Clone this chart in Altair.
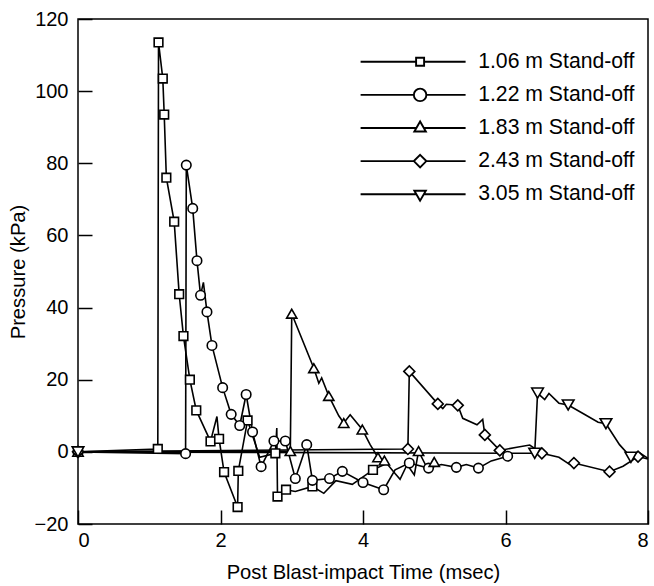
import altair as alt
import pandas as pd

# ---- data ----
series_names = ["1.06 m Stand-off", "1.22 m Stand-off", "1.83 m Stand-off",
                "2.43 m Stand-off", "3.05 m Stand-off"]
shapes = ["square", "circle", "triangle-up", "diamond", "triangle-down"]

t_106 = [0, 1.12, 1.13, 1.19, 1.21, 1.24, 1.35, 1.42, 1.48, 1.57, 1.66, 1.86, 1.95, 1.98,
         2.05, 2.24, 2.25, 2.38, 2.55, 2.77, 2.79, 2.80, 2.92, 3.05, 3.29, 3.45, 3.62, 3.85, 4.14, 4.30]
p_106 = [0, 0.8, 113.5, 103.5, 93.5, 76.0, 63.8, 43.7, 32.1, 20.0, 11.5, 2.9, 9.8, 3.6,
         -5.6, -15.3, -5.3, 8.7, -1.5, -0.4, 6.6, -12.4, -10.5, -11.0, -9.6, -11.5, -8.0, -9.0, -5.0, -3.5]
m_106 = [1, 1, 1, 1, 1, 1, 1, 1, 1, 1, 1, 1, 0, 1,
         1, 1, 1, 1, 0, 1, 0, 1, 1, 0, 1, 0, 0, 0, 1, 0]

t_122 = [0, 1.51, 1.52, 1.61, 1.67, 1.72, 1.76, 1.81, 1.88, 2.03, 2.15, 2.27, 2.36, 2.45,
         2.57, 2.75, 2.91, 3.05, 3.21, 3.29, 3.53, 3.71, 4.00, 4.29, 4.45, 4.65, 4.92, 5.10,
         5.31, 5.45, 5.62, 5.80, 6.03]
p_122 = [0, -0.5, 79.5, 67.5, 53.0, 43.4, 47.0, 38.8, 29.5, 17.8, 10.4, 7.3, 15.9, 5.5,
         -4.1, 3.0, 3.0, -7.4, 2.0, -7.9, -7.4, -5.4, -8.5, -10.5, -5.0, -3.1, -4.5, -3.5,
         -4.3, -3.5, -4.5, -2.5, -1.2]
m_122 = [1, 1, 1, 1, 1, 1, 0, 1, 1, 1, 1, 1, 1, 1,
         1, 1, 1, 1, 1, 1, 1, 1, 1, 1, 0, 1, 1, 0,
         1, 0, 1, 0, 1]

t_183 = [0, 2.98, 3.00, 3.31, 3.38, 3.42, 3.52, 3.66, 3.73, 3.82, 3.99, 4.10, 4.21, 4.30,
         4.45, 4.52, 4.62, 4.72, 4.78, 4.90, 5.00]
p_183 = [0, 0.2, 38.3, 23.2, 19.0, 20.5, 15.5, 10.0, 8.0, 10.3, 6.2, 2.0, -1.5, -2.4,
         -6.0, -7.6, -3.5, -6.4, 0.2, -4.5, -2.8]
m_183 = [1, 1, 1, 1, 0, 0, 1, 0, 1, 0, 1, 0, 1, 1,
         0, 0, 0, 0, 1, 0, 1]

t_243 = [0, 4.63, 4.65, 5.05, 5.12, 5.17, 5.33, 5.40, 5.60, 5.68, 5.71, 5.92, 6.16, 6.34,
         6.51, 6.75, 6.90, 6.96, 7.46, 7.65, 7.86, 8.00]
p_243 = [0, 0.8, 22.3, 13.3, 12.0, 13.2, 12.9, 9.3, 7.5, 9.0, 4.7, 0.4, 1.3, 1.9,
         -0.4, -1.5, -3.5, -3.1, -5.5, -4.0, -1.3, -2.0]
m_243 = [1, 1, 1, 1, 0, 0, 1, 0, 0, 0, 1, 1, 0, 0,
         1, 0, 0, 1, 1, 0, 1, 0]

t_305 = [0, 6.41, 6.45, 6.55, 6.61, 6.75, 6.88, 7.10, 7.30, 7.41, 7.60, 7.76, 7.88, 8.00]
p_305 = [0, -0.4, 16.3, 14.5, 16.2, 13.5, 13.0, 10.5, 8.2, 7.8, 2.0, -1.5, -0.2, -1.8]
m_305 = [1, 1, 1, 0, 0, 0, 1, 0, 0, 1, 0, 1, 0, 0]

x_ticks = [0, 2, 4, 6, 8]
y_ticks = [-20, 0, 20, 40, 60, 80, 100, 120]

# ---- build table ----
rows = []
for name, ts, ps, ms in zip(series_names,
                            [t_106, t_122, t_183, t_243, t_305],
                            [p_106, p_122, p_183, p_243, p_305],
                            [m_106, m_122, m_183, m_243, m_305]):
    for i, (t, p, m) in enumerate(zip(ts, ps, ms)):
        rows.append({"series": name, "t": t, "p": p, "marker": m, "i": i})
df = pd.DataFrame(rows)

FONT = "Liberation Sans"

# legend symbol paths: line + marker (unit = 5 px)
L, R = -11.9, 9.1
legend_paths = [
    f"M{L},0L-0.8,0M0.8,0L{R},0M-0.8,-0.8L0.8,-0.8L0.8,0.8L-0.8,0.8Z",
    f"M{L},0L-1.25,0M1.25,0L{R},0M-1.25,0A1.25,1.25,0,1,0,1.25,0A1.25,1.25,0,1,0,-1.25,0Z",
    f"M{L},0L-0.75,0M0.75,0L{R},0M0,-1.3L-1.15,0.7L1.15,0.7Z",
    f"M{L},0L-1.25,0M1.25,0L{R},0M0,-1.25L1.25,0L0,1.25L-1.25,0Z",
    f"M{L},0L-0.75,0M0.75,0L{R},0M0,1.3L-1.15,-0.7L1.15,-0.7Z",
]

x_enc = alt.X("t:Q", scale=alt.Scale(domain=[0, 8], nice=False),
              axis=alt.Axis(values=x_ticks, format="d", title="Post Blast-impact Time (msec)",
                            offset=-14, tickSize=14, domain=False, grid=False,
                            labelPadding=6, titlePadding=12))
y_enc = alt.Y("p:Q", scale=alt.Scale(domain=[-20, 120], nice=False, zero=False),
              axis=alt.Axis(values=y_ticks, format="d", title="Pressure (kPa)",
                            offset=-14, tickSize=14, domain=False, grid=False,
                            labelPadding=10, titlePadding=6))

base = alt.Chart(df)

lines = base.mark_line(color="black", strokeWidth=1.6).encode(
    x=x_enc, y=y_enc,
    detail="series:N",
    order="i:Q",
)

points = base.transform_filter(alt.datum.marker == 1).mark_point(
    fill="white", stroke="black", strokeWidth=1.6, opacity=1, filled=True
).encode(
    x="t:Q", y="p:Q",
    shape=alt.Shape("series:N",
                    scale=alt.Scale(domain=series_names, range=shapes),
                    legend=None),
    size=alt.Size("series:N",
                  scale=alt.Scale(domain=series_names, range=[75, 135, 115, 150, 120]),
                  legend=None),
)

# layer with no rows that only carries the legend (line + marker symbols)
legend_layer = base.transform_filter(alt.datum.i < 0).mark_point(
    stroke="black", strokeWidth=1.6, opacity=1, filled=False
).encode(
    x="t:Q", y="p:Q",
    shape=alt.Shape("series:N",
                    scale=alt.Scale(domain=series_names, range=legend_paths),
                    legend=alt.Legend(
                        title=None, orient="none", legendX=331.5, legendY=32.2,
                        padding=0, symbolSize=100, symbolStrokeWidth=1.9,
                        symbolStrokeColor="black", symbolOpacity=1,
                        labelOffset=47.5, rowPadding=11.1,
                        labelFontSize=21.2, labelFont=FONT, labelColor="black",
                        labelLimit=400,
                    )),
)

chart = (lines + points + legend_layer).resolve_scale(
    shape="independent", size="independent"
).properties(
    width=570, height=505,
    background="white",
    autosize=alt.AutoSizeParams(type="none"),
    padding={"left": 78, "top": 19, "right": 6, "bottom": 62},
).configure_view(
    stroke="black", strokeWidth=1.5
).configure_axis(
    labelFont=FONT, titleFont=FONT, labelFontSize=20, titleFontSize=20.2,
    labelColor="black", titleColor="black", tickColor="black", tickWidth=1.5,
    titleFontWeight="normal",
)

chart.save("out.html", embed_options={"renderer": "svg", "actions": False})
